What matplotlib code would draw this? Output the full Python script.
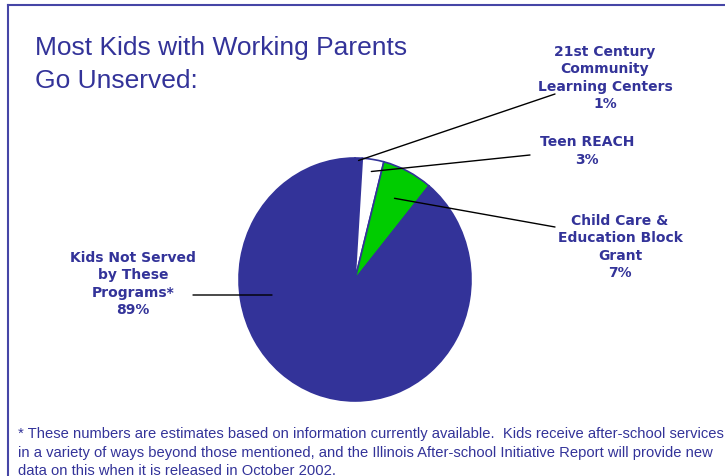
import numpy as np
import matplotlib.pyplot as plt
from matplotlib.lines import Line2D

# data
programs = ["21st Century\nCommunity\nLearning Centers", "Teen REACH",
            "Child Care &\nEducation Block\nGrant", "Kids Not Served\nby These\nPrograms*"]
shares = [1, 3, 7, 89]
colors = ["#333399", "#ffffff", "#00cc00", "#333399"]

navy = "#333399"
W, H = 725, 477

fig = plt.figure(figsize=(W / 100, H / 100), dpi=100)
fig.patch.set_facecolor("white")

# pie placed by pixel centre / radii (slightly taller than wide, like the source)
cx, cy, rx, ry = 355, 280.5, 116, 121.5
ax = fig.add_axes([(cx - rx) / W, (H - cy - ry) / H, 2 * rx / W, 2 * ry / H])
wedges, _ = ax.pie(shares, colors=colors, startangle=90, counterclock=False,
                   wedgeprops=dict(edgecolor=navy, linewidth=1.2))
ax.set_xlim(-1, 1)
ax.set_ylim(-1, 1)
ax.set_aspect("auto")
ax.axis("off")

# frame border
fig.add_artist(Line2D([8 / W, 1], [1 - 6 / H, 1 - 6 / H], color="#4646a6", lw=1.5))
fig.add_artist(Line2D([8 / W, 8 / W], [0, 1 - 6 / H], color="#4646a6", lw=1.5))

# title
fig.text(35 / W, 1 - 36 / H, "Most Kids with Working Parents\nGo Unserved:", color=navy,
         fontsize=19, family="Liberation Sans", va="top", ha="left", linespacing=1.45)

# labels and leader lines
cum = np.cumsum([0] + shares)
mids = [90 - (cum[i] + shares[i] / 2) * 3.6 for i in range(len(shares))]
label_pos = [(605, 78), (587, 151), (620, 247), (133, 284)]
line_end = [(555, 95), (530, 156), (555, 228), (193, 296)]
line_r = [0.98, 0.9, 0.75, None]

for i, name in enumerate(programs):
    lx, ly = label_pos[i]
    fig.text(lx / W, 1 - ly / H, f"{name}\n{shares[i]}%", color=navy, fontsize=10,
             fontweight="bold", ha="center", va="center", linespacing=1.3)
    if line_r[i] is not None:
        a = np.deg2rad(mids[i])
        start = (line_r[i] * np.cos(a), line_r[i] * np.sin(a))
    else:
        start = ((272 - cx) / rx, (cy - 296) / ry)
    ex, ey = line_end[i]
    ax.annotate("", xy=start, xytext=(ex, H - ey), textcoords="figure pixels",
                arrowprops=dict(arrowstyle="-", color="black", lw=1, shrinkA=0, shrinkB=0),
                annotation_clip=False)

# footnote
note = ("* These numbers are estimates based on information currently available.  Kids receive after-school services\n"
        "in a variety of ways beyond those mentioned, and the Illinois After-school Initiative Report will provide new\n"
        "data on this when it is released in October 2002.")
fig.text(18 / W, 1 - 427 / H, note, color=navy, fontsize=10.6,
         family="Liberation Sans", va="top", ha="left", linespacing=1.42)

fig.savefig("out.png", dpi=100, facecolor="white")
